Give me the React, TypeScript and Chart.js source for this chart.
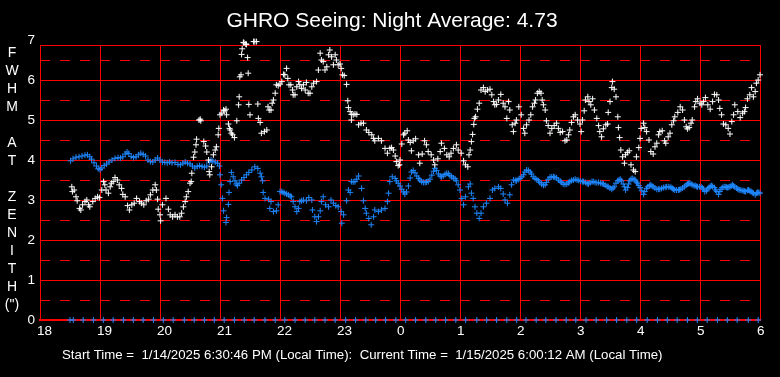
import React, { useEffect, useRef } from "react";
import { Chart, registerables } from "chart.js";

Chart.register(...registerables);

const TITLE = "GHRO Seeing: Night Average: 4.73";
const FOOTER = "Start Time =  1/14/2025 6:30:46 PM (Local Time):  Current Time =  1/15/2025 6:00:12 AM (Local Time)";
const Y_TITLE_LINES = ["F", "W", "H", "M", "", "A", "T", "", "Z", "E", "N", "I", "T", "H", "(\")"];

const X_TICKS = [18, 19, 20, 21, 22, 23, 24, 25, 26, 27, 28, 29, 30];
const Y_TICKS = [0, 1, 2, 3, 4, 5, 6, 6.875, 7];
const Y_HALF_TICKS = [0.5, 1.5, 2.5, 3.5, 4.5, 5.5, 6.5];
const Y_MAX = 6.875;

// Seeing (white) — hours since midnight of start day (24+ = next day)
const WHITE_T = [
  18.53, 18.54, 18.57, 18.6, 18.62, 18.66, 18.68, 18.71, 18.75, 18.78, 18.81, 18.83, 18.88, 18.92, 18.96, 18.99,
  19.03, 19.06, 19.08, 19.1, 19.14, 19.17, 19.19, 19.22, 19.25, 19.29, 19.32, 19.36, 19.38, 19.42, 19.46, 19.49,
  19.53, 19.57, 19.61, 19.66, 19.69, 19.73, 19.77, 19.81, 19.84, 19.88, 19.92, 19.94, 19.96, 19.97, 20.0, 20.01,
  20.04, 20.1, 20.14, 20.17, 20.21, 20.25, 20.29, 20.33, 20.36, 20.39, 20.42, 20.44, 20.47, 20.5, 20.52, 20.53,
  20.56, 20.58, 20.6, 20.61, 20.65, 20.67, 20.68, 20.73, 20.76, 20.78, 20.81, 20.82, 20.83, 20.86, 20.89, 20.92,
  20.94, 20.97, 20.98, 21.0, 21.03, 21.06, 21.08, 21.1, 21.11, 21.14, 21.16, 21.17, 21.19, 21.21, 21.24, 21.28,
  21.31, 21.32, 21.33, 21.35, 21.36, 21.37, 21.39, 21.4, 21.43, 21.44, 21.46, 21.47, 21.48, 21.5, 21.56, 21.58,
  21.61, 21.63, 21.64, 21.67, 21.69, 21.74, 21.78, 21.8, 21.82, 21.85, 21.87, 21.89, 21.92, 21.94, 21.97, 22.0,
  22.03, 22.06, 22.08, 22.11, 22.13, 22.15, 22.18, 22.21, 22.22, 22.25, 22.28, 22.31, 22.33, 22.36, 22.39, 22.42,
  22.44, 22.47, 22.5, 22.53, 22.56, 22.61, 22.64, 22.67, 22.69, 22.72, 22.75, 22.78, 22.81, 22.83, 22.86, 22.89,
  22.92, 22.94, 22.97, 23.0, 23.02, 23.04, 23.07, 23.11, 23.13, 23.14, 23.17, 23.19, 23.19, 23.22, 23.25, 23.28,
  23.31, 23.35, 23.39, 23.44, 23.48, 23.53, 23.56, 23.58, 23.64, 23.69, 23.75, 23.79, 23.83, 23.86, 23.89, 23.92,
  23.94, 23.97, 23.99, 24.0, 24.03, 24.06, 24.08, 24.12, 24.14, 24.17, 24.19, 24.22, 24.26, 24.31, 24.33, 24.37,
  24.41, 24.44, 24.47, 24.52, 24.56, 24.58, 24.63, 24.67, 24.69, 24.74, 24.78, 24.82, 24.85, 24.89, 24.94, 24.97,
  25.02, 25.06, 25.09, 25.13, 25.15, 25.17, 25.19, 25.21, 25.23, 25.24, 25.26, 25.29, 25.32, 25.35, 25.39, 25.42,
  25.46, 25.5, 25.53, 25.56, 25.58, 25.61, 25.64, 25.68, 25.72, 25.75, 25.78, 25.81, 25.83, 25.87, 25.89, 25.92,
  25.94, 25.98, 26.02, 26.06, 26.08, 26.11, 26.15, 26.18, 26.21, 26.24, 26.26, 26.29, 26.32, 26.35, 26.37, 26.39,
  26.42, 26.44, 26.47, 26.5, 26.53, 26.57, 26.61, 26.64, 26.67, 26.71, 26.75, 26.78, 26.81, 26.83, 26.86, 26.89,
  26.92, 26.96, 27.0, 27.02, 27.04, 27.07, 27.09, 27.13, 27.15, 27.18, 27.21, 27.24, 27.28, 27.31, 27.33, 27.36,
  27.39, 27.43, 27.46, 27.47, 27.5, 27.53, 27.54, 27.57, 27.6, 27.63, 27.64, 27.66, 27.68, 27.71, 27.74, 27.76,
  27.79, 27.82, 27.85, 27.89, 27.92, 27.94, 27.98, 28.0, 28.02, 28.06, 28.08, 28.11, 28.15, 28.18, 28.22, 28.25,
  28.28, 28.31, 28.33, 28.37, 28.41, 28.43, 28.47, 28.5, 28.53, 28.56, 28.58, 28.63, 28.67, 28.71, 28.74, 28.77,
  28.79, 28.82, 28.85, 28.87, 28.91, 28.93, 28.96, 29.0, 29.03, 29.06, 29.09, 29.13, 29.17, 29.21, 29.24, 29.28,
  29.31, 29.33, 29.36, 29.39, 29.43, 29.47, 29.5, 29.53, 29.56, 29.58, 29.63, 29.67, 29.71, 29.74, 29.76, 29.79,
  29.83, 29.86, 29.89, 29.92, 29.94, 29.97, 30.0,
];
const WHITE_V = [
  3.33, 3.21, 3.25, 3.08, 2.98, 2.79, 2.75, 2.88, 2.96, 3.0, 2.88, 2.83, 2.96, 3.04, 3.08, 3.06,
  3.25, 3.46, 3.38, 3.25, 3.17, 3.33, 3.42, 3.46, 3.56, 3.5, 3.38, 3.29, 3.14, 3.08, 2.86, 2.75,
  2.88, 2.92, 3.04, 2.96, 2.92, 2.88, 2.98, 3.02, 3.13, 3.25, 3.38, 3.25, 3.02, 2.77, 2.63, 2.48,
  2.88, 3.04, 2.77, 2.63, 2.58, 2.63, 2.58, 2.58, 2.67, 2.83, 2.96, 3.08, 3.21, 3.42, 3.46, 3.67,
  4.07, 4.2, 4.38, 4.52, 5.0, 5.02, 4.98, 4.46, 4.35, 4.2, 4.0, 3.71, 3.63, 3.83, 4.13, 4.25,
  4.33, 4.63, 4.79, 5.13, 5.17, 5.25, 5.23, 5.27, 5.13, 4.9, 4.79, 4.75, 4.67, 4.63, 4.56, 4.98,
  5.38, 5.58, 6.08, 6.13, 6.64, 6.78, 6.94, 6.93, 6.9, 6.89, 6.56, 6.17, 5.39, 5.13, 6.96, 6.96,
  6.96, 5.4, 5.04, 4.94, 4.67, 4.71, 4.75, 5.33, 5.25, 5.25, 5.42, 5.5, 5.67, 5.88, 5.86, 5.9,
  5.96, 6.14, 6.13, 6.29, 6.04, 5.88, 5.88, 5.75, 5.63, 5.63, 5.83, 5.96, 5.88, 5.79, 5.88, 5.75,
  5.94, 5.67, 5.67, 5.83, 5.92, 5.96, 6.25, 6.67, 6.5, 6.46, 6.25, 6.33, 6.63, 6.75, 6.58, 6.38,
  6.63, 6.5, 6.38, 6.4, 6.29, 6.13, 6.11, 5.89, 5.48, 5.31, 5.21, 5.14, 5.0, 5.13, 5.15, 5.14,
  4.88, 4.92, 4.92, 4.75, 4.69, 4.63, 4.54, 4.48, 4.54, 4.48, 4.29, 4.17, 4.29, 4.31, 4.25, 4.1,
  3.96, 3.86, 3.88, 4.0, 4.4, 4.63, 4.67, 4.73, 4.5, 4.44, 4.23, 4.48, 4.53, 4.13, 3.92, 4.15,
  4.48, 4.38, 4.21, 4.13, 4.0, 3.88, 4.03, 4.21, 4.42, 4.29, 4.13, 4.08, 4.17, 4.29, 4.38, 4.25,
  4.17, 3.98, 3.88, 3.83, 4.13, 4.25, 4.46, 4.64, 4.89, 5.04, 5.08, 5.27, 5.42, 5.75, 5.81, 5.71,
  5.75, 5.77, 5.63, 5.46, 5.38, 5.39, 5.5, 5.64, 5.42, 5.33, 5.04, 5.46, 5.25, 4.88, 4.71, 4.92,
  5.0, 5.33, 5.13, 4.79, 4.67, 4.88, 5.0, 5.13, 5.33, 5.42, 5.5, 5.67, 5.71, 5.67, 5.5, 5.38,
  5.25, 4.98, 4.86, 4.67, 4.79, 4.86, 4.92, 4.79, 4.69, 4.71, 4.48, 4.5, 4.63, 4.75, 4.94, 5.08,
  5.13, 5.0, 4.9, 4.71, 5.0, 5.23, 5.5, 5.58, 5.46, 5.38, 5.53, 5.25, 5.04, 4.86, 4.71, 4.58,
  4.78, 4.88, 4.9, 5.19, 5.46, 5.81, 5.96, 5.77, 5.58, 5.08, 4.81, 4.56, 4.25, 4.08, 3.92, 4.13,
  4.19, 4.23, 3.88, 3.75, 3.71, 4.08, 4.31, 4.54, 4.79, 4.92, 4.81, 4.71, 4.5, 4.21, 4.15, 4.33,
  4.42, 4.63, 4.71, 4.73, 4.48, 4.42, 4.58, 4.67, 4.88, 4.98, 5.08, 5.19, 5.33, 5.25, 5.0, 4.83,
  4.78, 4.81, 4.92, 5.0, 5.33, 5.46, 5.53, 5.42, 5.38, 5.46, 5.56, 5.38, 5.27, 5.46, 5.64, 5.63,
  5.5, 5.29, 5.13, 4.9, 4.88, 4.79, 4.65, 4.96, 5.13, 5.38, 5.21, 5.06, 5.17, 5.21, 5.31, 5.53,
  5.63, 5.81, 5.58, 5.71, 5.92, 6.0, 6.13,
];

// Zenith-corrected (blue)
const BLUE_T = [
  18.51, 18.55, 18.6, 18.65, 18.7, 18.75, 18.79, 18.83, 18.86, 18.9, 18.94, 18.97, 19.0, 19.03, 19.07, 19.11,
  19.15, 19.2, 19.25, 19.3, 19.34, 19.38, 19.42, 19.45, 19.48, 19.52, 19.56, 19.6, 19.64, 19.68, 19.72, 19.76,
  19.8, 19.84, 19.88, 19.92, 19.96, 20.0, 20.04, 20.08, 20.12, 20.16, 20.2, 20.25, 20.3, 20.34, 20.38, 20.42,
  20.46, 20.5, 20.54, 20.58, 20.62, 20.66, 20.7, 20.74, 20.78, 20.82, 20.85, 20.88, 20.92, 20.96, 20.99, 21.0,
  21.02, 21.04, 21.06, 21.1, 21.11, 21.14, 21.15, 21.17, 21.19, 21.22, 21.25, 21.27, 21.29, 21.32, 21.36, 21.4,
  21.44, 21.48, 21.53, 21.58, 21.63, 21.67, 21.69, 21.71, 21.72, 21.75, 21.81, 21.83, 21.85, 21.89, 21.94, 21.97,
  22.0, 22.03, 22.05, 22.08, 22.11, 22.14, 22.17, 22.19, 22.22, 22.25, 22.28, 22.31, 22.33, 22.36, 22.39, 22.44,
  22.48, 22.53, 22.54, 22.58, 22.61, 22.64, 22.67, 22.69, 22.72, 22.76, 22.81, 22.85, 22.89, 22.93, 22.97, 23.02,
  23.03, 23.06, 23.11, 23.14, 23.17, 23.19, 23.22, 23.25, 23.28, 23.31, 23.36, 23.39, 23.42, 23.44, 23.48, 23.52,
  23.56, 23.58, 23.64, 23.69, 23.75, 23.79, 23.81, 23.83, 23.87, 23.92,
  23.94, 23.97, 24.0, 24.03, 24.06, 24.08, 24.11, 24.14, 24.17, 24.19, 24.22, 24.25, 24.28, 24.31, 24.33, 24.36,
  24.39, 24.42, 24.44, 24.47, 24.5, 24.53, 24.56, 24.58, 24.61, 24.64, 24.67, 24.69, 24.72, 24.75, 24.78, 24.81,
  24.83, 24.86, 24.89, 24.92, 24.94, 24.97, 25.0, 25.03, 25.06, 25.09, 25.14, 25.17, 25.19, 25.22, 25.25, 25.28,
  25.32, 25.35, 25.39, 25.44, 25.5, 25.54, 25.58, 25.64, 25.68, 25.72, 25.75, 25.79, 25.83, 25.86, 25.89, 25.92,
  25.94, 25.97, 26.0, 26.03, 26.06, 26.08, 26.11, 26.14, 26.17, 26.19, 26.22, 26.25, 26.28, 26.31, 26.33, 26.36,
  26.39, 26.42, 26.44, 26.47, 26.5, 26.53, 26.56, 26.58, 26.61, 26.64, 26.67, 26.69, 26.72, 26.75, 26.78, 26.81,
  26.83, 26.86, 26.89,
  26.92, 26.95, 26.98, 27.01, 27.04, 27.06, 27.09, 27.12, 27.14, 27.17, 27.2, 27.22, 27.25, 27.28, 27.31, 27.34,
  27.37, 27.39, 27.42, 27.45, 27.47, 27.5, 27.53, 27.55, 27.57, 27.6, 27.63, 27.65, 27.67, 27.69, 27.72, 27.74,
  27.76, 27.79, 27.81, 27.83, 27.85, 27.87, 27.9, 27.92, 27.94, 27.96, 27.98, 28.0, 28.03, 28.06, 28.08, 28.11,
  28.13, 28.16, 28.18, 28.2, 28.22, 28.25, 28.28, 28.31, 28.33, 28.36, 28.39, 28.42, 28.44, 28.47, 28.5, 28.52,
  28.54, 28.56, 28.58, 28.61, 28.64, 28.66, 28.68, 28.71, 28.74, 28.77, 28.79, 28.81, 28.83, 28.85, 28.87, 28.9,
  28.92, 28.94, 28.96, 28.99, 29.02, 29.04, 29.06, 29.08, 29.11, 29.13, 29.15, 29.17, 29.19, 29.21, 29.24, 29.26,
  29.28, 29.31, 29.33, 29.35, 29.37, 29.4, 29.42, 29.44, 29.46, 29.48, 29.5, 29.52, 29.54, 29.56, 29.58, 29.61,
  29.63, 29.65, 29.67, 29.7, 29.72, 29.74, 29.76, 29.79, 29.81, 29.83, 29.85, 29.87, 29.89, 29.92, 29.94, 29.96,
  29.98, 30.0,
];
const BLUE_V = [
  3.98, 4.03, 4.07, 4.08, 4.1, 4.12, 4.13, 4.08, 4.02, 3.93, 3.85, 3.78, 3.76, 3.8, 3.86, 3.9,
  3.95, 4.0, 4.04, 4.06, 4.05, 4.08, 4.15, 4.2, 4.16, 4.09, 4.06, 4.08, 4.13, 4.17, 4.14, 4.1,
  4.0, 3.96, 3.95, 4.0, 4.05, 4.0, 3.95, 3.94, 3.93, 3.95, 3.93, 3.94, 3.89, 3.88, 3.92, 3.95,
  3.92, 3.9, 3.85, 3.8, 3.84, 3.86, 3.84, 3.82, 3.85, 3.95, 4.0, 3.97, 3.95, 3.92, 3.85, 3.63,
  3.38, 3.04, 2.73, 2.44, 2.56, 2.89, 3.19, 3.46, 3.69, 3.58, 3.48, 3.4, 3.36, 3.42, 3.5, 3.56,
  3.63, 3.69, 3.75, 3.83, 3.79, 3.67, 3.58, 3.48, 3.19, 3.04, 3.02, 2.79, 2.96, 2.71, 2.73, 2.88,
  3.21, 3.21, 3.19, 3.17, 3.15, 3.13, 3.1, 3.08, 2.96, 2.83, 2.71, 2.79, 2.96, 2.98, 3.0, 2.98,
  3.06, 3.0, 2.75, 2.58, 2.46, 2.58, 2.73, 2.96, 3.08, 2.88, 2.83, 3.0, 2.92, 2.86, 2.83, 2.71,
  2.42, 2.63, 2.98, 3.25, 3.19, 3.46, 3.45, 3.46, 3.52, 3.6, 3.29, 2.98, 2.79, 2.67, 2.54, 2.38,
  2.58, 2.75, 2.71, 2.75, 2.79, 2.96, 3.17, 3.46, 3.58, 3.54,
  3.48, 3.42, 3.35, 3.27, 3.2, 3.15, 3.2, 3.35, 3.55, 3.7, 3.74, 3.68, 3.6, 3.54, 3.5, 3.46,
  3.44, 3.44, 3.45, 3.46, 3.52, 3.62, 3.72, 3.79, 3.74, 3.65, 3.6, 3.58, 3.6, 3.64, 3.67, 3.66,
  3.61, 3.58, 3.55, 3.53, 3.48, 3.38, 3.25, 3.04, 2.88, 3.08, 3.33, 3.4, 3.17, 3.04, 2.83, 2.67,
  2.54, 2.67, 2.83, 2.92, 3.04, 3.25, 3.29, 3.33, 3.29, 3.15, 3.0, 2.92, 3.13, 3.38, 3.5, 3.49,
  3.48, 3.51, 3.54, 3.58, 3.63, 3.7, 3.75, 3.74, 3.7, 3.65, 3.58, 3.54, 3.51, 3.48, 3.44, 3.4,
  3.37, 3.38, 3.44, 3.52, 3.57, 3.58, 3.58, 3.57, 3.55, 3.5, 3.47, 3.44, 3.4, 3.39, 3.4, 3.43,
  3.46, 3.49, 3.5,
  3.52, 3.5, 3.49, 3.47, 3.46, 3.46, 3.44, 3.41, 3.4, 3.43, 3.46, 3.46, 3.44, 3.43, 3.44, 3.42,
  3.41, 3.4, 3.37, 3.34, 3.33, 3.3, 3.27, 3.3, 3.33, 3.42, 3.48, 3.5, 3.52, 3.48, 3.4, 3.33,
  3.25, 3.31, 3.4, 3.48, 3.52, 3.54, 3.52, 3.5, 3.45, 3.42, 3.36, 3.31, 3.23, 3.14, 3.21, 3.29,
  3.33, 3.36, 3.38, 3.35, 3.33, 3.3, 3.27, 3.27, 3.27, 3.29, 3.31, 3.32, 3.33, 3.33, 3.33, 3.31,
  3.29, 3.27, 3.25, 3.25, 3.25, 3.26, 3.27, 3.3, 3.33, 3.37, 3.4, 3.41, 3.42, 3.4, 3.38, 3.36,
  3.36, 3.34, 3.33, 3.33, 3.33, 3.3, 3.27, 3.21, 3.23, 3.28, 3.31, 3.34, 3.36, 3.34, 3.31, 3.25,
  3.21, 3.14, 3.21, 3.27, 3.31, 3.33, 3.33, 3.32, 3.31, 3.32, 3.33, 3.35, 3.38, 3.35, 3.33, 3.3,
  3.27, 3.26, 3.25, 3.24, 3.23, 3.22, 3.21, 3.24, 3.25, 3.23, 3.21, 3.19, 3.17, 3.13, 3.17, 3.19,
  3.19, 3.17,
];

// Blue markers sitting on the zero line
const ZERO_T = [
  18.5, 18.555, 18.72, 18.89, 19.055, 19.22, 19.39, 19.555, 19.72, 19.89, 20.055, 20.22, 20.405, 20.57, 20.74,
  20.905, 21.07, 21.24, 21.405, 21.57, 21.75, 21.92, 22.08, 22.25, 22.42, 22.58, 22.75, 22.92, 23.095, 23.26,
  23.43, 23.595, 23.76, 23.93, 24.095, 24.26, 24.43, 24.595, 24.76, 24.93, 25.095, 25.28, 25.445, 25.61, 25.78,
  25.945, 26.1, 26.27, 26.43, 26.6, 26.77, 26.93, 27.1, 27.27, 27.445, 27.61, 27.78, 27.945, 28.12, 28.29,
  28.455, 28.62, 28.79, 28.955, 29.12, 29.29, 29.455, 29.62, 29.805, 29.97,
];
const ZERO_LEVEL = 0;

const RED = "rgb(255,0,0)";
const WHITE = "#ffffff";
const BLUE = "#1e88ff";
const FONT = "'Liberation Sans', Arial, Helvetica, sans-serif";

// Dashed red grid lines at the half values, placed through the y scale
const halfGridPlugin = {
  id: "halfGrid",
  beforeDatasetsDraw(chart: any) {
    const { ctx, chartArea, scales } = chart;
    const y = scales.y;
    ctx.save();
    ctx.strokeStyle = RED;
    ctx.lineWidth = 1;
    ctx.setLineDash([10, 10]);
    ctx.lineDashOffset = 0;
    Y_HALF_TICKS.forEach((v) => {
      const p = Math.round(y.getPixelForValue(v)) + 0.5;
      ctx.beginPath();
      ctx.moveTo(chartArea.left, p);
      ctx.lineTo(chartArea.right, p);
      ctx.stroke();
    });
    ctx.restore();
  },
};

const textPlugin = {
  id: "customTexts",
  afterDraw(chart: any) {
    const ctx = chart.ctx;
    ctx.save();
    ctx.fillStyle = WHITE;
    ctx.textBaseline = "middle";
    ctx.textAlign = "center";
    ctx.font = `21px ${FONT}`;
    ctx.fillText(TITLE, 392, 21);
    ctx.font = `14px ${FONT}`;
    Y_TITLE_LINES.forEach((s, i) => {
      if (s) ctx.fillText(s, 12, 53 + 18 * i);
    });
    ctx.textAlign = "left";
    ctx.font = `13.25px ${FONT}`;
    ctx.fillText(FOOTER, 62, 355);
    ctx.restore();
  },
};

export default function App() {
  const ref = useRef<HTMLCanvasElement | null>(null);

  useEffect(() => {
    if (!ref.current) return;
    Chart.defaults.font.family = FONT;
    const white = WHITE_T.map((t, i) => ({ x: t, y: WHITE_V[i] }));
    const blue = BLUE_T.map((t, i) => ({ x: t, y: BLUE_V[i] }));
    const zero = ZERO_T.map((t) => ({ x: t, y: ZERO_LEVEL }));
    const pointDs = (label: string, data: any[], color: string) => ({
      label,
      data,
      showLine: false,
      pointStyle: "cross",
      pointRadius: 3,
      pointHoverRadius: 3,
      pointBorderWidth: 1,
      borderColor: color,
      backgroundColor: color,
      pointBorderColor: color,
      clip: false as any,
    });
    const chart = new Chart(ref.current, {
      type: "scatter",
      data: {
        datasets: [
          pointDs("Seeing", white, WHITE),
          pointDs("Zenith", blue, BLUE),
          pointDs("Zero", zero, BLUE),
        ],
      },
      plugins: [halfGridPlugin, textPlugin],
      options: {
        animation: false,
        responsive: false,
        events: [],
        layout: { padding: { left: 0, right: 20, top: 45, bottom: 37 } },
        plugins: {
          legend: { display: false },
          tooltip: { enabled: false },
          title: { display: false },
        },
        scales: {
          x: {
            type: "linear",
            min: 18,
            max: 30,
            afterBuildTicks: (s: any) => {
              s.ticks = X_TICKS.map((v) => ({ value: v }));
            },
            afterFit: (s: any) => {
              s.height = 20;
            },
            ticks: {
              color: WHITE,
              font: { size: 13.5, family: FONT },
              align: "start",
              labelOffset: -3,
              maxRotation: 0,
              autoSkip: false,
              padding: 3,
              callback: (v: any) => String(Number(v) % 24),
            },
            grid: { color: RED, lineWidth: 1, drawTicks: false },
            border: { display: true, color: RED, width: 2 },
          },
          y: {
            type: "linear",
            min: 0,
            max: Y_MAX,
            afterBuildTicks: (s: any) => {
              s.ticks = Y_TICKS.map((v) => ({ value: v }));
            },
            afterFit: (s: any) => {
              s.width = 40;
            },
            ticks: {
              color: WHITE,
              font: { size: 13.5, family: FONT },
              padding: 5,
              autoSkip: false,
              callback: (v: any) => (Number.isInteger(Number(v)) ? String(v) : ""),
            },
            grid: {
              color: (c: any) => (c.tick && c.tick.value > Y_MAX ? "rgba(0,0,0,0)" : RED),
              lineWidth: 1,
              drawTicks: false,
            },
            border: { display: true, color: RED, width: 1 },
          },
        },
      } as any,
    });
    return () => chart.destroy();
  }, []);

  return (
    <div style={{ position: "fixed", left: 0, top: 0, width: 780, height: 377, background: "#000" }}>
      <canvas ref={ref} width={780} height={377} style={{ display: "block" }} />
    </div>
  );
}
